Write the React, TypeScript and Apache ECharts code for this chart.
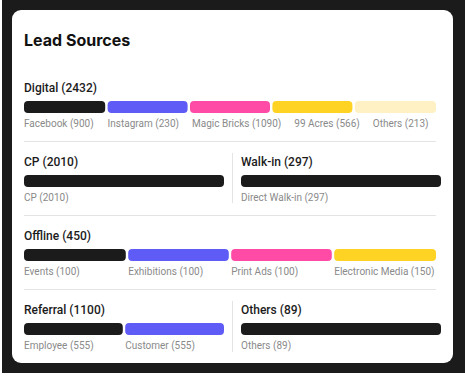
import React, { useEffect, useRef } from 'react';
import * as echarts from 'echarts';

const chartTitle = 'Lead Sources';
const sectionNames = ['Digital', 'CP', 'Walk-in', 'Offline', 'Referral', 'Others'];
const sectionTotals = [2432, 2010, 297, 450, 1100, 89];

const digitalLabels = ['Facebook', 'Instagram', 'Magic Bricks', '99 Acres', 'Others'];
const digitalValues = [900, 230, 1090, 566, 213];
const cpLabels = ['CP'];
const cpValues = [2010];
const walkInLabels = ['Direct Walk-in'];
const walkInValues = [297];
const offlineLabels = ['Events', 'Exhibitions', 'Print Ads', 'Electronic Media'];
const offlineValues = [100, 100, 100, 150];
const referralLabels = ['Employee', 'Customer'];
const referralValues = [555, 555];
const othersLabels = ['Others'];
const othersValues = [89];

const sectionLabels = [digitalLabels, cpLabels, walkInLabels, offlineLabels, referralLabels, othersLabels];
const sectionValues = [digitalValues, cpValues, walkInValues, offlineValues, referralValues, othersValues];

const palette = ['#1b1b1b', '#5f5bf6', '#ff4aa6', '#ffd324', '#fff1c4'];

// layout of each section's bar (pixels)
const layouts = [
  { left: 24, top: 101, width: 412 },
  { left: 24, top: 175, width: 200 },
  { left: 241, top: 175, width: 200 },
  { left: 24, top: 249, width: 412 },
  { left: 24, top: 323, width: 200 },
  { left: 241, top: 323, width: 200 },
];
const BAR_H = 12;
const LABEL_FONT = '10px Roboto';
const LABEL_GAP = 13;

let measureCtx: CanvasRenderingContext2D | null = null;
function textWidth(t: string, font: string): number {
  if (!measureCtx) measureCtx = document.createElement('canvas').getContext('2d');
  if (!measureCtx) return t.length * 5.2;
  measureCtx.font = font;
  return measureCtx.measureText(t).width;
}

export default function App() {
  const ref = useRef<HTMLDivElement>(null);
  useEffect(() => {
    if (!ref.current) return;
    const chart = echarts.init(ref.current, undefined, { renderer: 'svg' });

    const grids: any[] = [];
    const xAxes: any[] = [];
    const yAxes: any[] = [];
    const series: any[] = [];
    const graphics: any[] = [
      { type: 'rect', z: -10, shape: { x: 2, y: 0, width: 463, height: 373 }, style: { fill: '#1b1b1b' } },
      { type: 'rect', z: -9, shape: { x: 12, y: 10, width: 441, height: 353, r: 9 }, style: { fill: '#ffffff' } },
      {
        type: 'text', x: 24, y: 40,
        style: { text: chartTitle, fill: '#111111', font: 'bold 16px Inter', verticalAlign: 'middle' },
      },
      { type: 'line', shape: { x1: 24, y1: 141.5, x2: 436, y2: 141.5 }, style: { stroke: '#e4e4e4', lineWidth: 1 } },
      { type: 'line', shape: { x1: 24, y1: 215.5, x2: 436, y2: 215.5 }, style: { stroke: '#e4e4e4', lineWidth: 1 } },
      { type: 'line', shape: { x1: 24, y1: 289.5, x2: 436, y2: 289.5 }, style: { stroke: '#e4e4e4', lineWidth: 1 } },
      { type: 'line', shape: { x1: 232.5, y1: 153, x2: 232.5, y2: 203 }, style: { stroke: '#e4e4e4', lineWidth: 1 } },
      { type: 'line', shape: { x1: 232.5, y1: 301, x2: 232.5, y2: 352 }, style: { stroke: '#e4e4e4', lineWidth: 1 } },
    ];

    sectionNames.forEach((name, si) => {
      const lay = layouts[si];
      const labels = sectionLabels[si];
      const values = sectionValues[si];
      const n = labels.length;
      const labelText = (i: number) => `${labels[i]} (${values[i]})`;
      grids.push({ left: lay.left, top: lay.top, width: lay.width, height: BAR_H, containLabel: false });
      xAxes.push({ type: 'value', gridIndex: si, min: 0, max: n, show: false });
      yAxes.push({ type: 'value', gridIndex: si, min: 0, max: 1, show: false });
      graphics.push({
        type: 'text', x: lay.left, y: lay.top - 13,
        style: {
          text: `${name} (${sectionTotals[si]})`, fill: '#1b1b1b',
          font: '500 12px Roboto', verticalAlign: 'middle',
        },
      });
      series.push({
        type: 'custom',
        xAxisIndex: si,
        yAxisIndex: si,
        clip: false,
        data: labels.map((l, i) => ({ value: [i, i + 1], name: l, itemStyle: { color: palette[i] } })),
        renderItem: (params: any, api: any) => {
          const start = api.value(0);
          const end = api.value(1);
          const tl = api.coord([start, 1]);
          const br = api.coord([end, 0]);
          const gap = 1.2;
          const segStart = (j: number) => (j === 0 ? api.coord([0, 1])[0] : api.coord([j, 1])[0] + gap);
          const x0 = segStart(start);
          const x1 = end === n ? br[0] : br[0] - gap;
          const idx = params.dataIndex;
          // labels flow left to right: each starts at its segment or after the previous label
          let lx = segStart(0);
          for (let j = 1; j <= idx; j++) {
            lx = Math.max(segStart(j), lx + textWidth(labelText(j - 1), LABEL_FONT) + LABEL_GAP);
          }
          return {
            type: 'group',
            children: [
              {
                type: 'rect',
                shape: { x: x0, y: tl[1], width: x1 - x0, height: br[1] - tl[1], r: 4 },
                style: { fill: palette[idx] },
              },
              {
                type: 'text',
                x: lx,
                y: br[1] + 10,
                style: {
                  text: labelText(idx),
                  fill: '#8a8a8a',
                  font: LABEL_FONT,
                  verticalAlign: 'middle',
                  align: 'left',
                },
              },
            ],
          };
        },
      });
    });

    chart.setOption({
      animation: false,
      grid: grids,
      xAxis: xAxes,
      yAxis: yAxes,
      series,
      graphic: graphics,
    });
    return () => chart.dispose();
  }, []);

  return (
    <div style={{ position: 'absolute', left: 0, top: 0, width: 465, height: 380, background: '#ffffff' }}>
      <div ref={ref} style={{ width: 465, height: 380 }} />
    </div>
  );
}
